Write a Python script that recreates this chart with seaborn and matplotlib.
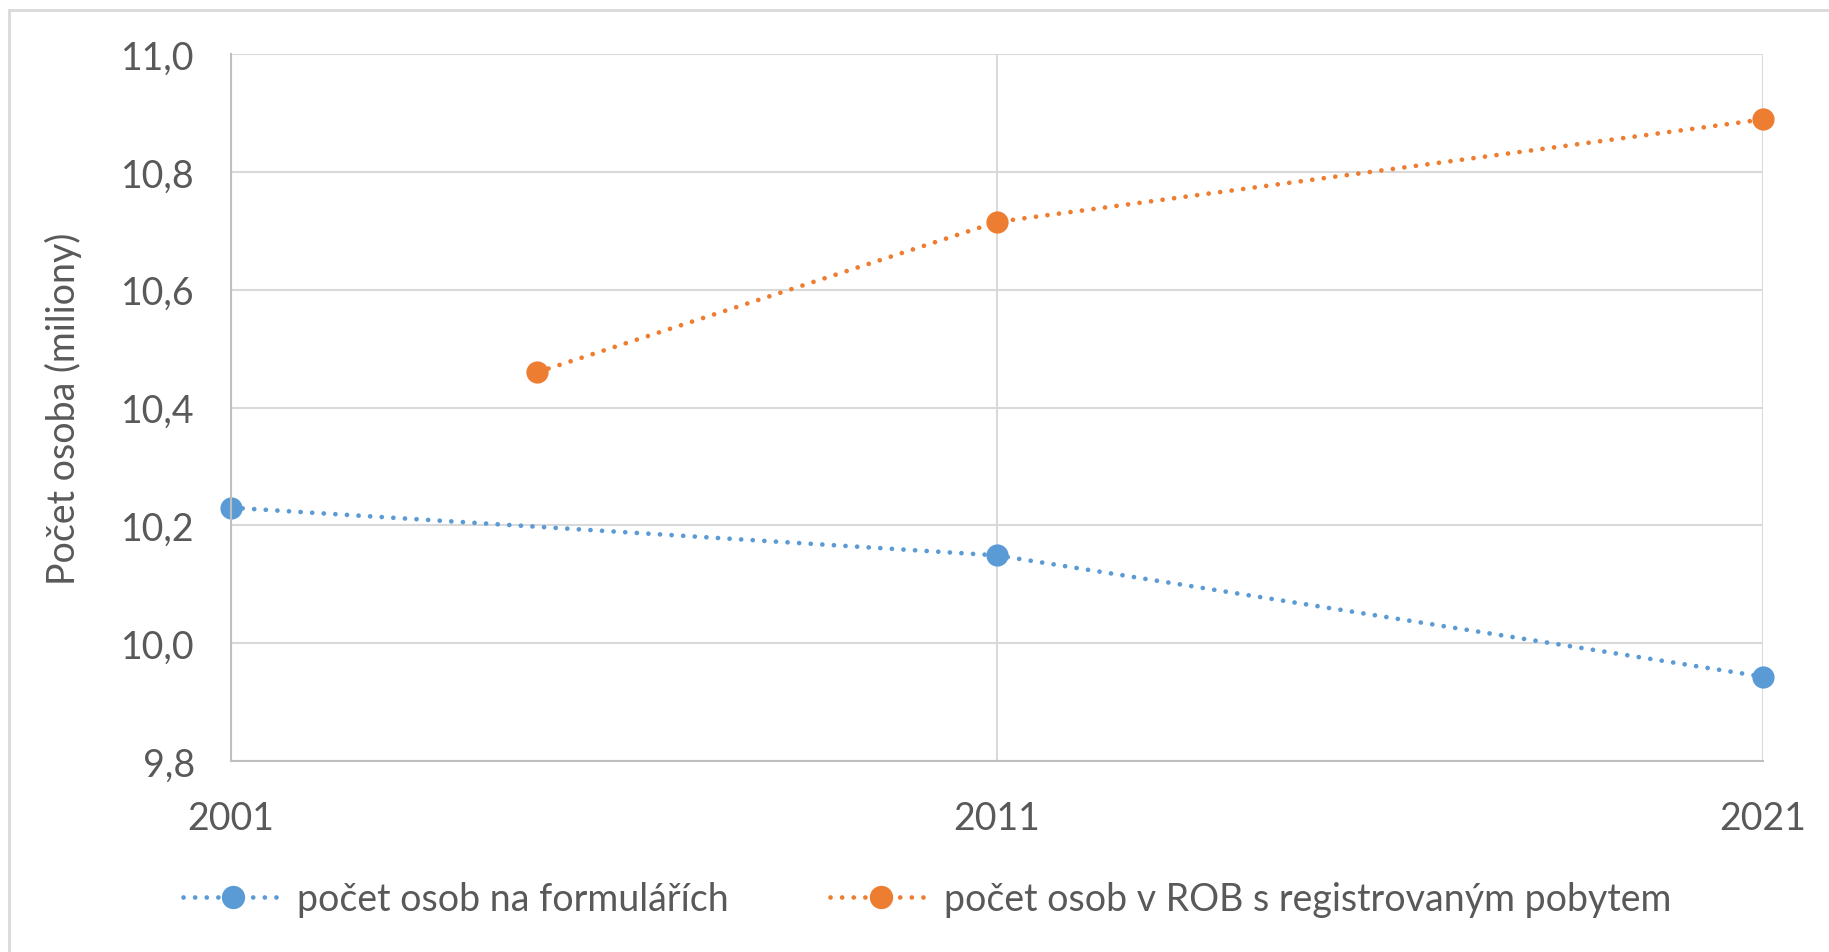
import seaborn as sns
import pandas as pd
import matplotlib.pyplot as plt
from matplotlib.ticker import FuncFormatter, MultipleLocator
from matplotlib.patches import Rectangle

roky_formulare = [2001, 2011, 2021]
osoby_formulare = [10.230, 10.149, 9.943]
roky_rob = [2005, 2011, 2021]
osoby_rob = [10.460, 10.715, 10.889]
nazvy = ['počet osob na formulářích', 'počet osob v ROB s registrovaným pobytem']
barvy = ['#5B9BD5', '#ED7D31']

df1 = pd.DataFrame({'rok': roky_formulare, 'pocet': osoby_formulare})
df2 = pd.DataFrame({'rok': roky_rob, 'pocet': osoby_rob})

sns.set_style('white')
plt.rcParams['font.family'] = ['Lato', 'DejaVu Sans']

fig = plt.figure(figsize=(18.29, 9.53), dpi=100)
ax = fig.add_axes([0.1263, 0.2004, 0.964 - 0.1263, 0.9423 - 0.2004])

for d, nazev, barva in zip([df1, df2], nazvy, barvy):
    sns.lineplot(data=d, x='rok', y='pocet', ax=ax, color=barva, label=nazev,
                 marker='o', markersize=16, markeredgewidth=0,
                 linewidth=3.4, linestyle=(0, (0.01, 2.45)),
                 dash_capstyle='round', clip_on=False)

ax.set_xlim(2001, 2021)
ax.set_ylim(9.8, 11.0)
ax.set_xticks([2001, 2011, 2021])
ax.yaxis.set_major_locator(MultipleLocator(0.2))
ax.yaxis.set_major_formatter(FuncFormatter(lambda v, p: f'{v:.1f}'.replace('.', ',')))
ax.grid(True, color='#d9d9d9', linewidth=1.5)
ax.set_axisbelow(True)
for s in ['top', 'right']:
    ax.spines[s].set_visible(False)
for s in ['left', 'bottom']:
    ax.spines[s].set_color('#bfbfbf')
    ax.spines[s].set_linewidth(1.5)
ax.tick_params(axis='y', length=0, pad=26, labelsize=27, labelcolor='#595959')
ax.tick_params(axis='x', length=0, pad=28, labelsize=27, labelcolor='#595959')
ax.set_xlabel('')
ax.set_ylabel('Počet osoba (miliony)', fontsize=27, color='#595959', labelpad=28)

ax.legend(loc='center', bbox_to_anchor=(0.507, 0.056), bbox_transform=fig.transFigure,
          ncol=2, frameon=False, fontsize=27, labelcolor='#595959',
          handlelength=2.7, handletextpad=0.35, columnspacing=2.7, markerscale=1.05)

fig.patches.append(Rectangle((9 / 1829, -0.1), 1.2, 1.1 - 11 / 953, transform=fig.transFigure,
                             fill=False, edgecolor='#d9d9d9', linewidth=2))

fig.savefig('out.png', dpi=100)
